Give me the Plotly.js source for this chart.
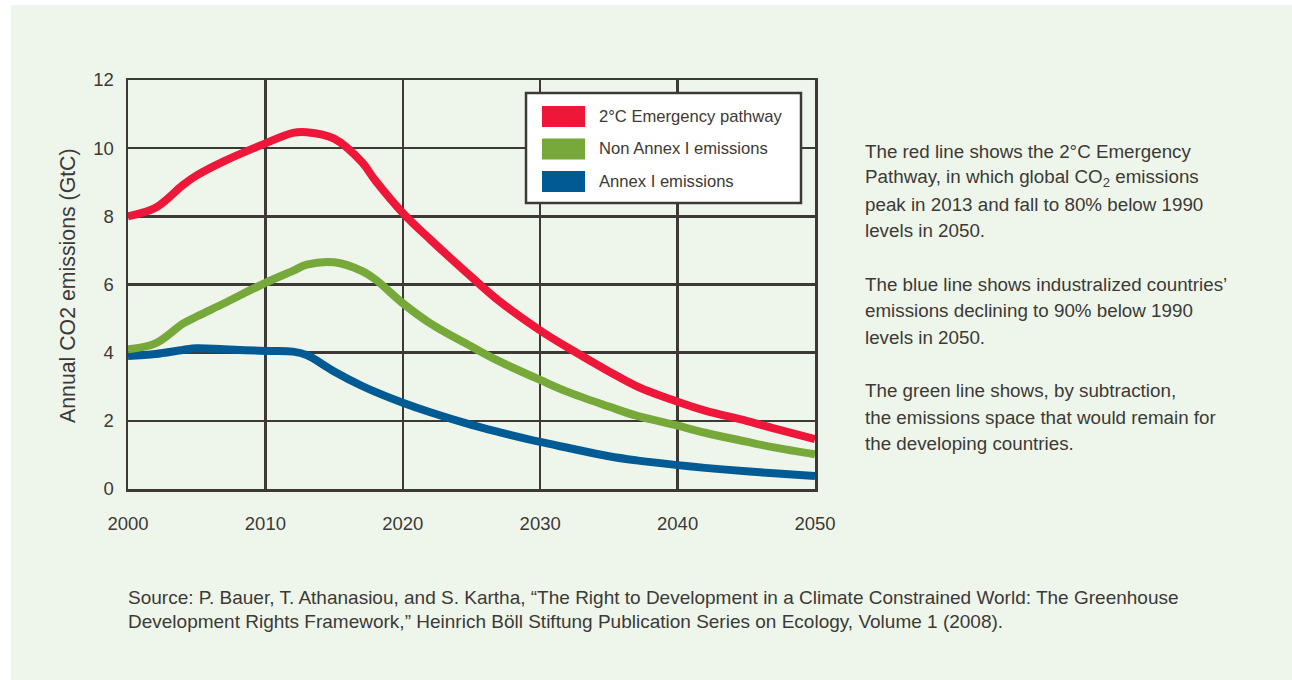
<!DOCTYPE html>
<html>
<head>
<meta charset="utf-8">
<script src="https://cdn.plot.ly/plotly-3.0.1.min.js"></script>
<style>
  html, body { margin: 0; padding: 0; background: #ffffff; width: 1292px; height: 680px; overflow: hidden; }
  #panel { position: absolute; left: 11px; top: 5px; width: 1281px; height: 675px; background: #eef6ec; }
  #chart { position: absolute; left: 0; top: 0; width: 1292px; height: 680px; }
</style>
</head>
<body>
<div id="panel"></div>
<div id="chart"></div>
<script>
// ---- data ----
const years = [2000, 2002, 2004, 2005, 2007, 2010, 2012, 2013, 2015, 2017, 2018, 2020, 2022, 2025, 2027, 2030, 2032, 2035, 2037, 2040, 2042, 2045, 2047, 2050];
const emergencyPathway = [8.0, 8.25, 8.92, 9.2, 9.62, 10.14, 10.45, 10.47, 10.28, 9.6, 9.05, 8.1, 7.32, 6.22, 5.52, 4.65, 4.15, 3.45, 3.02, 2.56, 2.3, 2.0, 1.78, 1.46];
const nonAnnexI = [4.1, 4.27, 4.85, 5.06, 5.45, 6.05, 6.4, 6.58, 6.65, 6.4, 6.15, 5.45, 4.86, 4.18, 3.75, 3.2, 2.85, 2.42, 2.15, 1.86, 1.65, 1.39, 1.22, 1.02];
const annexI = [3.9, 3.96, 4.08, 4.13, 4.1, 4.05, 4.03, 3.93, 3.45, 3.03, 2.85, 2.53, 2.25, 1.88, 1.67, 1.38, 1.21, 0.96, 0.84, 0.7, 0.62, 0.52, 0.46, 0.38];

const seriesNames = ["2°C Emergency pathway", "Non Annex I emissions", "Annex I emissions"];
const seriesColors = ["#ee1639", "#76a83a", "#005b94"];
const xTicks = [2000, 2010, 2020, 2030, 2040, 2050];
const yTicks = [0, 2, 4, 6, 8, 10, 12];
const yTitle = "Annual CO2 emissions (GtC)";

const sideText = [
  ["The red line shows the 2°C Emergency", "Pathway, in which global CO<sub>2</sub> emissions", "peak in 2013 and fall to 80% below 1990", "levels in 2050."],
  ["The blue line shows industralized countries’", "emissions declining to 90% below 1990", "levels in 2050."],
  ["The green line shows, by subtraction,", "the emissions space that would remain for", "the developing countries."]
];
const sourceText = [
  "Source: P. Bauer, T. Athanasiou, and S. Kartha, “The Right to Development in a Climate Constrained World: The Greenhouse",
  "Development Rights Framework,” Heinrich Böll Stiftung Publication Series on Ecology, Volume 1 (2008)."
];

// ---- layout helpers ----
const W = 1292, H = 680;
const M = { l: 128, r: W - 815, t: 80, b: H - 489 };
const PW = W - M.l - M.r, PH = H - M.t - M.b;
const px = x => (x - M.l) / PW;
const py = y => (H - M.b - y) / PH;
const ink = "#3d3935";
const FONT = "Liberation Sans, Arial, sans-serif";

const traces = [emergencyPathway, nonAnnexI, annexI].map((ys, i) => ({
  x: years, y: ys, type: "scatter", mode: "lines", name: seriesNames[i],
  line: { color: seriesColors[i], width: 8, shape: "spline", smoothing: 1.0 },
  showlegend: false, hoverinfo: "x+y"
}));
const ordered = [traces[2], traces[1], traces[0]];

const shapes = [];
const annotations = [];

// legend box
shapes.push({ type: "rect", xref: "paper", yref: "paper", x0: px(526), x1: px(801), y0: py(203), y1: py(93),
  fillcolor: "#ffffff", line: { color: ink, width: 2.5 }, layer: "above" });
const legY = [116.5, 149, 181.5];
seriesNames.forEach((n, i) => {
  shapes.push({ type: "rect", xref: "paper", yref: "paper", x0: px(542), x1: px(585), y0: py(legY[i] + 10.5), y1: py(legY[i] - 10.5),
    fillcolor: seriesColors[i], line: { width: 0 }, layer: "above" });
  annotations.push({ xref: "paper", yref: "paper", x: px(597), y: py(legY[i]), xanchor: "left", yanchor: "middle",
    text: n, showarrow: false, font: { family: FONT, size: 16.6, color: ink } });
});

// y title
annotations.push({ xref: "paper", yref: "paper", x: px(68), y: py(286), xanchor: "center", yanchor: "middle",
  text: yTitle, textangle: -90, showarrow: false, font: { family: FONT, size: 21.3, color: ink } });

// side text
const groupStarts = [151, 284, 390.6];
sideText.forEach((g, gi) => {
  g.forEach((line, li) => {
    annotations.push({ xref: "paper", yref: "paper", x: px(863), y: py(groupStarts[gi] + li * 26.6), xanchor: "left", yanchor: "middle",
      text: line, showarrow: false, font: { family: FONT, size: 18.8, color: ink } });
  });
});

// source
sourceText.forEach((line, i) => {
  annotations.push({ xref: "paper", yref: "paper", x: px(126), y: py(597 + i * 24.5), xanchor: "left", yanchor: "middle",
    text: line, showarrow: false, font: { family: FONT, size: 19, color: ink } });
});

const layout = {
  width: W, height: H,
  margin: M,
  paper_bgcolor: "rgba(0,0,0,0)",
  plot_bgcolor: "rgba(0,0,0,0)",
  showlegend: false,
  font: { family: FONT, color: ink },
  xaxis: {
    range: [2000, 2050], tickvals: xTicks, ticktext: xTicks.map(String),
    showgrid: true, gridcolor: ink, gridwidth: 2.5, zeroline: false,
    showline: true, linecolor: ink, linewidth: 2.5, mirror: true,
    ticks: "outside", ticklen: 16, tickcolor: "rgba(0,0,0,0)",
    tickfont: { family: FONT, size: 18.5, color: ink }, fixedrange: true
  },
  yaxis: {
    range: [0, 12], tickvals: yTicks, ticktext: yTicks.map(String),
    showgrid: true, gridcolor: ink, gridwidth: 2.5, zeroline: false,
    showline: true, linecolor: ink, linewidth: 2.5, mirror: true,
    ticks: "outside", ticklen: 8, tickcolor: "rgba(0,0,0,0)",
    tickfont: { family: FONT, size: 18.5, color: ink }, fixedrange: true
  },
  shapes: shapes,
  annotations: annotations
};

Plotly.newPlot("chart", ordered, layout, { displayModeBar: false, staticPlot: true });
</script>
</body>
</html>
